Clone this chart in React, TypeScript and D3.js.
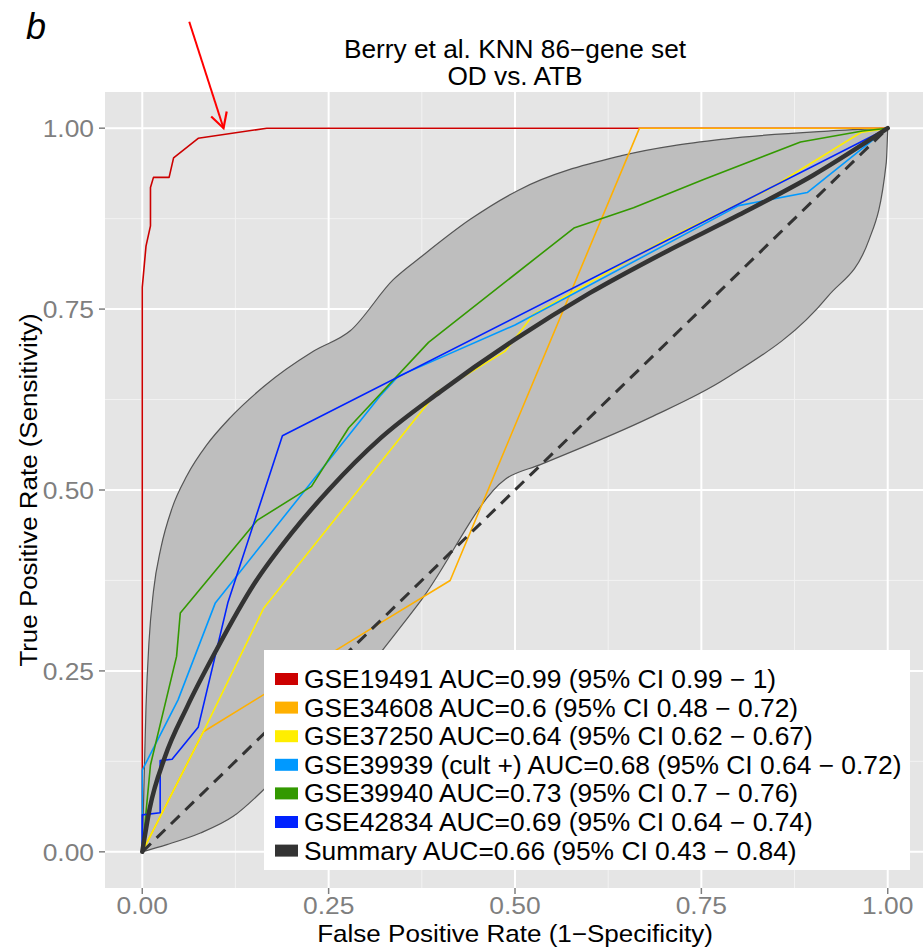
import React from "react";
import * as d3 from "d3";

type P = [number, number];

const seriesNames = [
  "GSE19491 AUC=0.99 (95% CI 0.99 − 1)",
  "GSE34608 AUC=0.6 (95% CI 0.48 − 0.72)",
  "GSE37250 AUC=0.64 (95% CI 0.62 − 0.67)",
  "GSE39939 (cult +) AUC=0.68 (95% CI 0.64 − 0.72)",
  "GSE39940 AUC=0.73 (95% CI 0.7 − 0.76)",
  "GSE42834 AUC=0.69 (95% CI 0.64 − 0.74)",
  "Summary AUC=0.66 (95% CI 0.43 − 0.84)",
];
const seriesColors = ["#CC0000", "#FFB000", "#FFEE00", "#0099FF", "#339900", "#0022FF", "#333333"];

const gse19491: P[] = [
  [0, 0], [0, 0.78], [0.005, 0.837], [0.011, 0.865], [0.011, 0.918], [0.015, 0.932],
  [0.036, 0.932], [0.042, 0.959], [0.075, 0.986], [0.167, 1.0], [1, 1],
];
const gse34608: P[] = [
  [0, 0], [0.082, 0.166], [0.319, 0.316], [0.413, 0.375], [0.667, 1.0], [1, 1],
];
const gse37250: P[] = [
  [0, 0], [0.082, 0.166], [0.163, 0.337], [0.395, 0.635], [0.43, 0.656], [0.487, 0.692],
  [0.525, 0.743], [0.7, 0.845], [0.841, 0.916], [0.964, 0.994], [1, 1],
];
const gse39939: P[] = [
  [0, 0], [0, 0.113], [0.048, 0.21], [0.098, 0.344], [0.319, 0.63], [0.343, 0.657],
  [0.5, 0.728], [0.8, 0.893], [0.892, 0.911], [1, 1],
];
const gse39940: P[] = [
  [0, 0], [0.011, 0.12], [0.046, 0.27], [0.051, 0.33], [0.154, 0.458], [0.227, 0.505],
  [0.277, 0.586], [0.384, 0.704], [0.579, 0.862], [0.659, 0.89], [0.753, 0.929],
  [0.883, 0.981], [0.966, 0.996], [1, 1],
];
const gse42834: P[] = [
  [0, 0], [0, 0.051], [0.024, 0.054], [0.024, 0.126], [0.04, 0.128], [0.075, 0.172],
  [0.115, 0.345], [0.188, 0.575], [1, 1],
];
const summary: P[] = [
  [0, 0], [0.01, 0.06], [0.03, 0.13], [0.06, 0.2], [0.1, 0.28], [0.15, 0.37],
  [0.2, 0.44], [0.25, 0.5], [0.32, 0.572], [0.4, 0.636], [0.5, 0.708], [0.6, 0.772],
  [0.7, 0.828], [0.8, 0.88], [0.9, 0.935], [1, 1],
];
const bandUpper: P[] = [
  [0, 0], [0.002, 0.08], [0.005, 0.2], [0.009, 0.29], [0.015, 0.36], [0.025, 0.42],
  [0.04, 0.475], [0.06, 0.52], [0.087, 0.563], [0.118, 0.6],
  [0.163, 0.643], [0.23, 0.692], [0.279, 0.72], [0.337, 0.791], [0.375, 0.823],
  [0.44, 0.874], [0.504, 0.914], [0.643, 0.962], [0.781, 0.985], [0.92, 0.996], [1, 1],
];
const bandLower: P[] = [
  [0, 0], [0.033, 0.01], [0.078, 0.026], [0.122, 0.049], [0.167, 0.09], [0.25, 0.183],
  [0.327, 0.285], [0.375, 0.349], [0.487, 0.515], [0.534, 0.535], [0.681, 0.6],
  [0.781, 0.653], [0.92, 0.768], [0.975, 0.846], [0.998, 0.952], [1, 1],
];
const diagonal: P[] = [[0, 0], [1, 1]];
const arrowPts: P[] = [[0.063, 1.147], [0.109, 1.0]];

const majorTicks = [0, 0.25, 0.5, 0.75, 1];
const minorTicks = [0.125, 0.375, 0.625, 0.875];
const tickLabels = ["0.00", "0.25", "0.50", "0.75", "1.00"];

const titleLines = ["Berry et al. KNN 86−gene set", "OD vs. ATB"];
const xTitle = "False Positive Rate (1−Specificity)";
const yTitle = "True Positive Rate (Sensitivity)";

const FONT = "'Liberation Sans', Arial, Helvetica, sans-serif";

function T(props: {
  x: number; y: number; size: number; sx?: number; anchor?: string; fill?: string; rot?: number; children: React.ReactNode;
}) {
  const { x, y, size, sx = 1.05, anchor = "start", fill = "#000", rot, children } = props;
  const tf = `translate(${x},${y})${rot ? ` rotate(${rot})` : ""} scale(${sx},1)`;
  return (
    <text transform={tf} textAnchor={anchor as any} fontSize={size} fill={fill}>
      {children}
    </text>
  );
}

export default function App() {
  const W = 923, H = 949;
  const pL = 105, pR = 925, pT = 92, pB = 888;
  const x = d3.scaleLinear().domain([-0.05, 1.05]).range([pL, pR]);
  const y = d3.scaleLinear().domain([-0.05, 1.05]).range([pB, pT]);
  const lin = d3.line<P>().x((d) => x(d[0])).y((d) => y(d[1]));
  const smooth = d3.line<P>().x((d) => x(d[0])).y((d) => y(d[1])).curve(d3.curveMonotoneX);
  const upPath = smooth(bandUpper) || "";
  const lowRevPath = (smooth(bandLower.slice().reverse()) || "").replace(/^M/, "L");
  const bandPoly = upPath + lowRevPath + "Z";

  const colored: P[][] = [gse19491, gse34608, gse37250, gse39939, gse39940, gse42834];

  const legX = 264, legY = 650, legW = 646, legH = 220;
  const rowY0 = 679, rowStep = 28.6;

  const [a0, a1] = arrowPts;
  const ax0 = x(a0[0]), ay0 = y(a0[1]), ax1 = x(a1[0]), ay1 = y(a1[1]);
  const ang = Math.atan2(ay1 - ay0, ax1 - ax0);
  const hl = 17, hw = 0.5;
  const w1: P = [ax1 - hl * Math.cos(ang - hw), ay1 - hl * Math.sin(ang - hw)];
  const w2: P = [ax1 - hl * Math.cos(ang + hw), ay1 - hl * Math.sin(ang + hw)];

  return (
    <svg width={W} height={H} style={{ position: "absolute", left: 0, top: 0, background: "#fff" }} fontFamily={FONT}>
      <defs>
        <clipPath id="panel">
          <rect x={pL} y={pT} width={pR - pL} height={pB - pT} />
        </clipPath>
      </defs>
      <rect x={0} y={0} width={W} height={H} fill="#fff" />
      <rect x={pL} y={pT} width={pR - pL} height={pB - pT} fill="#E5E5E5" />
      {minorTicks.map((t) => (
        <g key={"mn" + t}>
          <line x1={x(t)} x2={x(t)} y1={pT} y2={pB} stroke="#F2F2F2" strokeWidth={1} />
          <line x1={pL} x2={pR} y1={y(t)} y2={y(t)} stroke="#F2F2F2" strokeWidth={1} />
        </g>
      ))}
      {majorTicks.map((t) => (
        <g key={"mj" + t}>
          <line x1={x(t)} x2={x(t)} y1={pT} y2={pB} stroke="#fff" strokeWidth={2} />
          <line x1={pL} x2={pR} y1={y(t)} y2={y(t)} stroke="#fff" strokeWidth={2} />
        </g>
      ))}
      <g clipPath="url(#panel)">
        <path d={bandPoly} fill="#BEBEBE" stroke="none" />
        <path d={upPath} fill="none" stroke="#555" strokeWidth={1.2} />
        <path d={smooth(bandLower) || ""} fill="none" stroke="#555" strokeWidth={1.2} />
        {colored.map((pts, i) => (
          <path key={i} d={lin(pts) || ""} fill="none" stroke={seriesColors[i]} strokeWidth={1.6} strokeLinejoin="round" />
        ))}
        <path d={lin(diagonal) || ""} fill="none" stroke="#333" strokeWidth={3} strokeDasharray="12,8" />
        <path d={smooth(summary) || ""} fill="none" stroke="#333" strokeWidth={4.5} strokeLinecap="round" />
      </g>
      {majorTicks.map((t, i) => (
        <g key={"tx" + t}>
          <line x1={x(t)} x2={x(t)} y1={pB} y2={pB + 6} stroke="#7F7F7F" strokeWidth={1.5} />
          <T x={x(t)} y={pB + 26} size={24} sx={1.1} anchor="middle" fill="#7F7F7F">{tickLabels[i]}</T>
          <line x1={pL - 6} x2={pL} y1={y(t)} y2={y(t)} stroke="#7F7F7F" strokeWidth={1.5} />
          <T x={pL - 11} y={y(t) + 9} size={24} sx={1.1} anchor="end" fill="#7F7F7F">{tickLabels[i]}</T>
        </g>
      ))}
      <T x={(pL + pR) / 2} y={942} size={24} sx={1.085} anchor="middle">{xTitle}</T>
      <T x={37} y={(pT + pB) / 2} size={24} sx={1.08} rot={-90} anchor="middle">{yTitle}</T>
      <T x={(pL + pR) / 2} y={58} size={25} sx={1.05} anchor="middle">{titleLines[0]}</T>
      <T x={(pL + pR) / 2} y={85} size={25} sx={1.05} anchor="middle">{titleLines[1]}</T>
      <text x={26} y={39} fontSize={36} fontStyle="italic" fill="#000">b</text>
      <rect x={legX} y={legY} width={legW} height={legH} fill="#fff" />
      {seriesNames.map((n, i) => (
        <g key={n}>
          <rect x={275} y={rowY0 + i * rowStep - 6} width={23} height={12} fill={seriesColors[i]} />
          <T x={304} y={rowY0 + i * rowStep + 9} size={25} sx={1.056}>{n}</T>
        </g>
      ))}
      <line x1={ax0} y1={ay0} x2={ax1} y2={ay1} stroke="#FF0000" strokeWidth={2} />
      <polyline points={`${w1[0]},${w1[1]} ${ax1},${ay1} ${w2[0]},${w2[1]}`} fill="none" stroke="#FF0000" strokeWidth={2.2} />
    </svg>
  );
}
